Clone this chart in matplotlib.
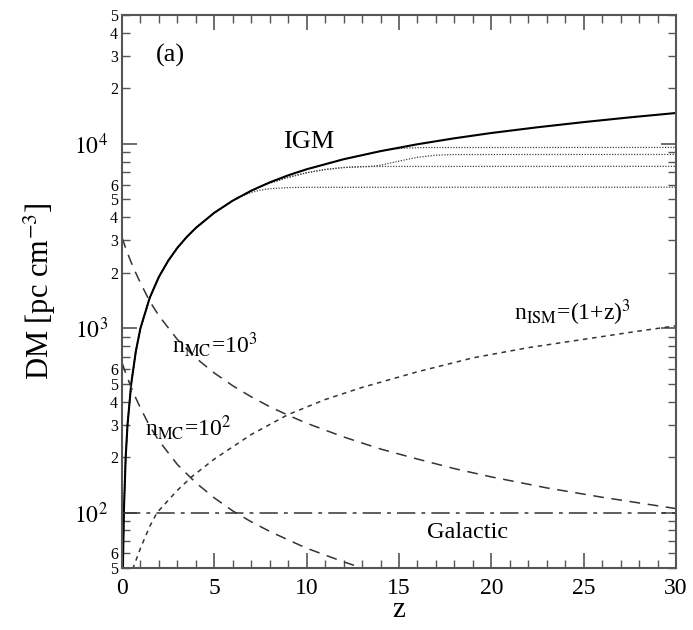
import matplotlib
matplotlib.use("Agg")
import matplotlib.pyplot as plt
from matplotlib.ticker import FixedLocator, FixedFormatter

plt.rcParams['font.family'] = ['Liberation Serif', 'DejaVu Serif']
plt.rcParams['mathtext.fontset'] = 'stix'

# ---- data ----
z_igm = [0.05, 0.1, 0.2, 0.3, 0.5, 0.75, 1.0, 1.5, 2.0, 2.5, 3.0, 3.5, 4.0, 5.0, 6.0, 7.0, 8.0,
         9.0, 10.0, 12.0, 14.0, 16.0, 18.0, 20.0, 22.5, 25.0, 27.5, 30.0]
dm_igm = [50, 100, 200, 300, 500, 750, 1000, 1460, 1900, 2320, 2730, 3120, 3500, 4230, 4920,
          5570, 6180, 6750, 7280, 8250, 9130, 9950, 10720, 11450, 12300, 13120, 13920, 14700]

# reionization-cut branches (dotted)
z_cut1 = [6.0, 6.5, 7.0, 7.5, 8.0, 9.0, 10.0, 30.0]
dm_cut1 = [4920, 5220, 5450, 5610, 5710, 5790, 5810, 5820]
z_cut2 = [7.0, 7.5, 8.0, 9.0, 10.0, 11.0, 12.0, 13.0, 13.5, 30.0]
dm_cut2 = [5570, 5860, 6120, 6580, 6970, 7260, 7440, 7520, 7540, 7550]
z_cut3 = [13.5, 14.0, 15.0, 16.0, 17.0, 18.0, 30.0]
dm_cut3 = [7540, 7660, 8060, 8450, 8680, 8750, 8760]
z_cut4 = [14.0, 14.5, 15.0, 15.5, 16.5, 30.0]
dm_cut4 = [9130, 9300, 9420, 9500, 9550, 9560]

z_ism = [0.5, 0.6, 1.0, 1.5, 1.9, 3.0, 3.8, 5.0, 7.0, 9.0, 11.0, 13.0, 16.0, 19.0, 22.0, 25.6, 28.0, 30.0]
dm_ism = [44, 50, 64, 84, 100, 132, 157, 195, 265, 340, 410, 477, 580, 690, 784, 888, 965, 1030]

z_mc3 = [0.0, 0.25, 0.5, 0.75, 1.0, 1.5, 2.0, 3.0, 4.0, 5.0, 6.0, 7.0, 8.0, 9.0, 10.0,
         12.0, 14.0, 16.0, 18.0, 20.0, 23.0, 26.0, 30.0]
dm_mc3 = [3100, 2630, 2270, 1990, 1760, 1400, 1167, 868, 689, 571, 487, 424, 375, 337, 305,
          257, 221, 195, 173, 156, 136, 121, 105]

z_mc2 = [0.0, 0.25, 0.5, 0.75, 1.0, 1.5, 2.0, 3.0, 4.0, 5.0, 6.0, 7.0, 8.0, 9.0, 10.0, 12.0, 13.0]
dm_mc2 = [650, 552, 477, 417, 369, 294, 245, 182, 145, 120, 102, 89, 79, 71, 64, 54, 50]

z_gal = [0.0, 30.0]
dm_gal = [100, 100]

labels = {
    "panel": "(a)",
    "igm": "IGM",
    "mc3": r"n$_{\rm MC}$=10$^3$",
    "mc2": r"n$_{\rm MC}$=10$^2$",
    "ism": r"n$_{\rm ISM}$=(1+z)$^3$",
    "gal": "Galactic",
}

# ---- figure ----
fig = plt.figure(figsize=(6.93, 6.30), dpi=100)
ax = fig.add_axes([122/693, 1-568/630, (676-122)/693, (568-15)/630])

def before(zs, ds, z0):
    return [z for z in zs if z < z0], [d for z, d in zip(zs, ds) if z < z0]

dot = dict(color='#444444', lw=0.9, ls=(0, (1, 1.2)))
zb, db = before(z_igm, dm_igm, z_cut1[0]); ax.plot(zb + z_cut1, db + dm_cut1, **dot)
zb, db = before(z_igm, dm_igm, z_cut2[0]); ax.plot(zb + z_cut2, db + dm_cut2, **dot)
zb2, db2 = before(z_cut2, dm_cut2, z_cut3[0])
ax.plot(zb + zb2 + z_cut3, db + db2 + dm_cut3, **dot)
zb, db = before(z_igm, dm_igm, z_cut4[0]); ax.plot(zb + z_cut4, db + dm_cut4, **dot)

ax.plot(z_igm, dm_igm, color='black', lw=1.5)
ax.plot(z_ism, dm_ism, color='#333333', lw=1.1, ls=(0, (3, 3)))
ax.plot(z_mc3, dm_mc3, color='#333333', lw=1.1, ls=(0, (7, 5)))
ax.plot(z_mc2, dm_mc2, color='#333333', lw=1.1, ls=(0, (7, 5)))
ax.plot(z_gal, dm_gal, color='#333333', lw=1.1, ls=(0, (12, 4, 2.5, 4)))

ax.set_yscale('log')
ax.set_xlim(0, 30)
ax.set_ylim(50, 50000)

ax.xaxis.set_major_locator(FixedLocator([0, 5, 10, 15, 20, 25, 30]))
ax.xaxis.set_minor_locator(FixedLocator(list(range(0, 31))))
ax.yaxis.set_major_locator(FixedLocator([1e2, 1e3, 1e4]))
ax.yaxis.set_major_formatter(FixedFormatter([r"$10^2$", r"$10^3$", r"$10^4$"]))
minor_locs, minor_labs = [], []
for dec in [10, 100, 1000, 10000]:
    for k in range(2, 10):
        v = k * dec
        if 50 <= v <= 50000:
            minor_locs.append(v)
            minor_labs.append(str(k) if k <= 6 else "")
ax.yaxis.set_minor_locator(FixedLocator(minor_locs))
ax.yaxis.set_minor_formatter(FixedFormatter(minor_labs))

ax.tick_params(which='both', direction='in', top=True, right=True, color='#555555')
ax.tick_params(which='major', length=11, width=1.2, labelsize=17)
ax.tick_params(which='minor', length=6, width=1.0, labelsize=11.5)
ax.tick_params(axis='y', which='major', pad=10)
ax.tick_params(axis='y', which='minor', pad=3)
ax.tick_params(axis='x', which='major', pad=7)
ax.tick_params(axis='x', which='minor', labelbottom=False)

for s in ax.spines.values():
    s.set_linewidth(1.5)
    s.set_color('#555555')

ax.set_xlabel("z", fontsize=21)
ax.set_ylabel(r"DM [pc cm$^{-3}$]", fontsize=22)
ax.xaxis.set_label_coords(0.5, -0.052)
ax.yaxis.set_label_coords(-0.115, 0.5)

ax.text(2.6, 30300, labels["panel"], fontsize=19, ha='center', va='center')
ax.text(10.1, 10260, labels["igm"], fontsize=19, ha='center', va='center')
ax.text(5.0, 815, labels["mc3"], fontsize=17, ha='center', va='center')
ax.text(3.57, 289, labels["mc2"], fontsize=17, ha='center', va='center')
ax.text(24.4, 1213, labels["ism"], fontsize=17, ha='center', va='center')
ax.text(18.7, 78, labels["gal"], fontsize=17.5, ha='center', va='center')

fig.savefig("out.png", dpi=100)
